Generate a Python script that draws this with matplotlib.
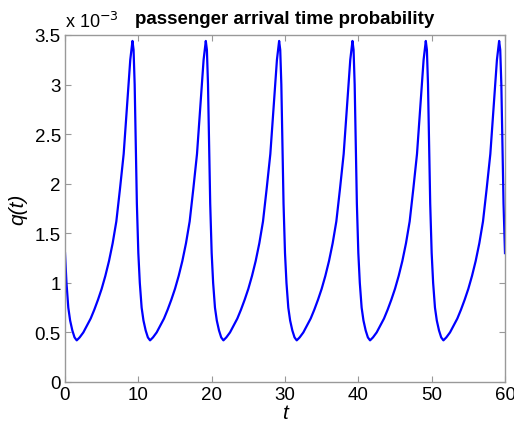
import numpy as np
import matplotlib
matplotlib.use("Agg")
import matplotlib.pyplot as plt

plt.rcParams['font.family'] = ['Liberation Sans', 'DejaVu Sans']

# one cycle of q(t) (t within period, q in units of 1e-3)
period = 10
n_cycles = 6
phase = [0.0, 0.2, 0.45, 0.7, 1.0, 1.3, 1.6, 2.0, 2.5, 3.0, 3.5, 4.0, 4.5,
         5.0, 5.5, 6.0, 6.5, 7.0, 7.5, 8.0, 8.5, 8.9, 9.2, 9.35, 9.5, 9.65, 9.8]
q_cycle = [1.30, 1.00, 0.75, 0.62, 0.52, 0.45, 0.42, 0.45, 0.50, 0.57, 0.64,
           0.73, 0.83, 0.94, 1.07, 1.22, 1.40, 1.62, 1.95, 2.30, 2.82, 3.25,
           3.44, 3.35, 3.00, 2.40, 1.80]
q_end = 1.30

t = np.concatenate([np.array(phase) + k * period for k in range(n_cycles)] + [[period * n_cycles]])
q = np.concatenate([q_cycle] * n_cycles + [[q_end]]) * 1e-3

fig = plt.figure(figsize=(5.14, 4.27), dpi=100)
ax = fig.add_axes([65 / 514, 1 - 383 / 427, 440 / 514, 347 / 427])
ax.plot(t, q, color='#0000ff', lw=1.6)

ax.set_xlim(0, 60)
ax.set_ylim(0, 3.5e-3)
ax.set_xticks(np.arange(0, 61, 10))
yt = np.arange(0, 3.51, 0.5)
ax.set_yticks(yt * 1e-3)
ax.set_yticklabels(['%g' % v for v in yt])
ax.tick_params(direction='in', top=True, right=True, length=4, width=0.8,
               color='#999999', labelsize=13.5, pad=3)
for s in ax.spines.values():
    s.set_color('#999999')
    s.set_linewidth(1)

ax.text(0.0, 1.012, r'x 10$^{-3}$', transform=ax.transAxes, fontsize=13,
        ha='left', va='bottom')
ax.set_title('passenger arrival time probability', fontsize=13.5,
             fontweight='bold', pad=9)
ax.set_xlabel('t', fontsize=15, fontstyle='italic', labelpad=0)
ax.set_ylabel('q(t)', fontsize=15, fontstyle='italic', labelpad=5)

fig.savefig('out.png', dpi=100)
